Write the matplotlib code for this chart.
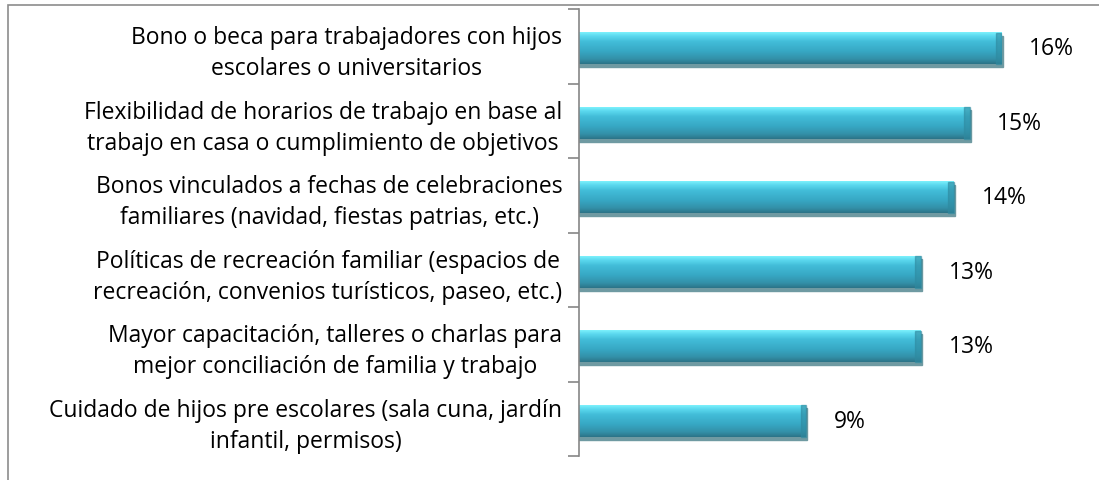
import numpy as np
import matplotlib.pyplot as plt
from matplotlib.colors import LinearSegmentedColormap
from matplotlib.patches import Rectangle

categories = [
    'Bono o beca para trabajadores con hijos\nescolares o universitarios',
    'Flexibilidad de horarios de trabajo en base al\ntrabajo en casa o cumplimiento de objetivos',
    'Bonos vinculados a fechas de celebraciones\nfamiliares (navidad, fiestas patrias, etc.)',
    'Políticas de recreación familiar (espacios de\nrecreación, convenios turísticos, paseo, etc.)',
    'Mayor capacitación, talleres o charlas para\nmejor conciliación de familia y trabajo',
    'Cuidado de hijos pre escolares (sala cuna, jardín\ninfantil, permisos)',
]
values = [16.0, 14.8, 14.2, 12.95, 12.95, 8.6]
value_labels = ['16%', '15%', '14%', '13%', '13%', '9%']

FONT = 'Open Sans'
FS = 16.5

W, H = 1099, 481
fig = plt.figure(figsize=(W / 100, H / 100), dpi=100)
fig.patches.append(Rectangle((8 / W, -0.1), 1.2, 1 - 6 / H + 0.1, transform=fig.transFigure,
                             fill=False, edgecolor='#8c8c8c', linewidth=1.2))

ax = fig.add_axes([579 / W, 1 - 457 / H, (1054 - 579) / W, (457 - 10) / H])

cmap = LinearSegmentedColormap.from_list('bar', [
    (0.0, '#7cf0fc'), (0.12, '#5ad8ee'), (0.3, '#42bcd8'),
    (0.6, '#37a8c4'), (0.85, '#3390a8'), (1.0, '#2c7488')])
grad = np.linspace(0, 1, 64).reshape(-1, 1)

h = 0.42
for i, v in enumerate(values):
    y0 = i - h / 2 + 0.03
    # shadow under the bar
    ax.add_patch(Rectangle((0, y0 + 0.04), v + 0.05, h, color='#6f9aa2', zorder=1))
    ax.imshow(grad, cmap=cmap, aspect='auto', extent=(0, v, y0 + h, y0), zorder=2)
    ax.add_patch(Rectangle((v - 0.2, y0), 0.2, h, color='#2f8aa0', alpha=0.6, zorder=3))
    ax.annotate(value_labels[i], (v, i + 0.03), xytext=(20, 0), textcoords='offset points',
                va='center', ha='left', fontsize=FS, family=FONT, color='#000000')

ax.set_xlim(0, 18)
ax.set_ylim(len(categories) - 0.5, -0.5)

ax.set_yticks(range(len(categories)))
ax.set_yticklabels(categories, fontsize=FS, family=FONT, multialignment='center',
                   linespacing=1.4)
ax.tick_params(axis='y', which='major', length=0, pad=12)
ax.set_yticks(np.arange(-0.5, len(categories), 1), minor=True)
ax.tick_params(axis='y', which='minor', length=8, color='#868686', width=1.2)
ax.set_xticks([])
for s in ['top', 'right', 'bottom']:
    ax.spines[s].set_visible(False)
ax.spines['left'].set_color('#868686')
ax.spines['left'].set_linewidth(1.2)

fig.savefig('out.png', dpi=100)
